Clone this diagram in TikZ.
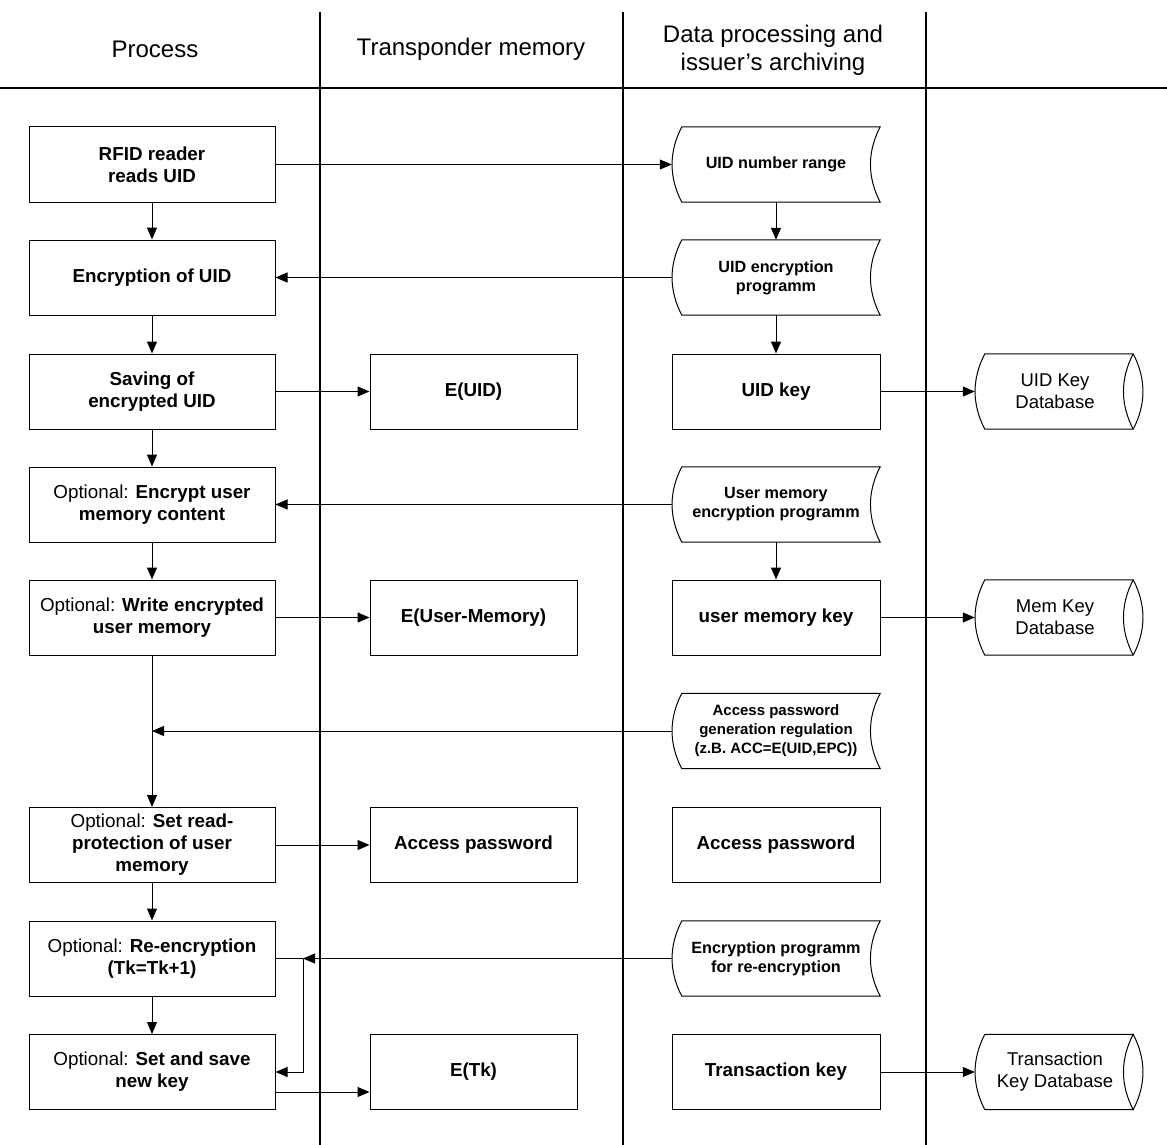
\documentclass[tikz,border=0pt]{standalone}
\usepackage{fontspec}
\setmainfont{Liberation Sans}
\usetikzlibrary{arrows.meta,calc}
\begin{document}
\begin{tikzpicture}[x=1pt,y=-1pt,
 box/.style={draw,line width=1pt,minimum width=246pt,minimum height=75pt,inner sep=0pt,align=center,font=\bfseries\fontsize{18.8}{22}\selectfont},
 tbox/.style={box,minimum width=207pt},
 dbox/.style={box,minimum width=208pt},
 store/.style={minimum width=208pt,minimum height=75pt,inner sep=0pt,align=center,font=\bfseries\fontsize{16.2}{19}\selectfont},
 db/.style={minimum width=160pt,minimum height=75pt,inner sep=0pt,align=center,font=\fontsize{18.5}{22}\selectfont},
 arr/.style={line width=1pt,-{Triangle[length=12pt,width=10pt]}},
 conn/.style={line width=1pt},
 hdr/.style={font=\fontsize{24}{28}\selectfont,align=center}]
\useasboundingbox (0,0) rectangle (1167,1145);
% header
\node[hdr] (h1) at (155,49) {Process};
\node[hdr] (h2) at (471,49) {Transponder memory};
\node[hdr] (h3) at (773,50) {Data processing and\\issuer’s archiving};
\draw[line width=2.5pt] (0,88) -- (1167,88);
\foreach \x in {320,623,926} \draw[line width=1.5pt] (\x,12) -- (\x,1145);
% process column
\node[box] (p1) at (152,164.5) {RFID reader\\reads UID};
\node[box] (p2) at (152,277.5) {Encryption of UID};
\node[box] (p3) at (152,391.5) {Saving of\\encrypted UID};
\node[box] (p4) at (152,504.5) {{\mdseries Optional:} Encrypt user\\memory content};
\node[box] (p5) at (152,617.5) {{\mdseries Optional:} Write encrypted\\user memory};
\node[box] (p6) at (152,845) {{\mdseries Optional:} Set read-\\protection of user\\memory};
\node[box] (p7) at (152,958.5) {{\mdseries Optional:} Re-encryption\\(Tk=Tk+1)};
\node[box] (p8) at (152,1072) {{\mdseries Optional:} Set and save\\new key};
% transponder column
\node[tbox] (t3) at (473.5,391.5) {E(UID)};
\node[tbox] (t5) at (473.5,617.5) {E(User-Memory)};
\node[tbox] (t6) at (473.5,845) {Access password};
\node[tbox] (t8) at (473.5,1072) {E(Tk)};
% data column
\node[store] (s1) at (776,164.5) {UID number range};
\node[store] (s2) at (776,277.5) {UID encryption\\programm};
\node[dbox] (d3) at (776,391.5) {UID key};
\node[store] (s4) at (776,504.5) {User memory\\encryption programm};
\node[dbox] (d5) at (776,617.5) {user memory key};
\node[store,font=\bfseries\fontsize{15}{19}\selectfont] (s6) at (776,731) {Access password\\generation regulation\\(z.B. ACC=E(UID,EPC))};
\node[dbox] (d6) at (776,845) {Access password};
\node[store] (s7) at (776,958.5) {Encryption programm\\for re-encryption};
\node[dbox] (d8) at (776,1072) {Transaction key};
% databases
\node[db] (db3) at (1055,391.5) {UID Key\\Database};
\node[db] (db5) at (1055,617.5) {Mem Key\\Database};
\node[db] (db8) at (1055,1072) {Transaction\\Key Database};
% shapes
\foreach \n in {s1,s2,s4,s6,s7}
 \draw[conn] ($(\n.north west)+(10,0)$) -- (\n.north east) .. controls ($(\n.north east)+(-13,25)$) and ($(\n.south east)+(-13,-25)$) .. (\n.south east) -- ($(\n.south west)+(10,0)$) .. controls ($(\n.south west)+(-3,-25)$) and ($(\n.north west)+(-3,25)$) .. cycle;
\foreach \n in {db3,db5,db8}{
 \draw[conn] ($(\n.north west)+(10,0)$) -- ($(\n.north east)+(-2,0)$) .. controls ($(\n.north east)+(11,25)$) and ($(\n.south east)+(11,-25)$) .. ($(\n.south east)+(-2,0)$) -- ($(\n.south west)+(10,0)$) .. controls ($(\n.south west)+(-3,-25)$) and ($(\n.north west)+(-3,25)$) .. cycle;
 \draw[conn] ($(\n.north east)+(-2,0)$) .. controls ($(\n.north east)+(-15,25)$) and ($(\n.south east)+(-15,-25)$) .. ($(\n.south east)+(-2,0)$);
}
% process flow
\draw[arr] (p1) -- (p2);
\draw[arr] (p2) -- (p3);
\draw[arr] (p3) -- (p4);
\draw[arr] (p4) -- (p5);
\draw[arr] (p5) -- (p6);
\draw[arr] (p6) -- (p7);
\draw[arr] (p7) -- (p8);
% data flow
\draw[arr] (s1) -- (s2);
\draw[arr] (s2) -- (d3);
\draw[arr] (s4) -- (d5);
% horizontal
\draw[arr] (p1) -- (s1);
\draw[arr] (s2) -- (p2);
\draw[arr] (p3) -- (t3);
\draw[arr] (d3) -- (db3);
\draw[arr] (s4) -- (p4);
\draw[arr] (p5) -- (t5);
\draw[arr] (d5) -- (db5);
\draw[arr] (s6) -- (s6 -| p5);
\draw[arr] (p6) -- (t6);
\coordinate (j) at (303,958.5);
\draw[conn] (p7.east) -- (j);
\draw[arr] (s7) -- (j);
\draw[arr] (j) |- (p8.east);
\draw[arr] ($(p8.east)+(0,20)$) -- ($(t8.west)+(0,20)$);
\draw[arr] (d8) -- (db8);
\end{tikzpicture}
\end{document}
